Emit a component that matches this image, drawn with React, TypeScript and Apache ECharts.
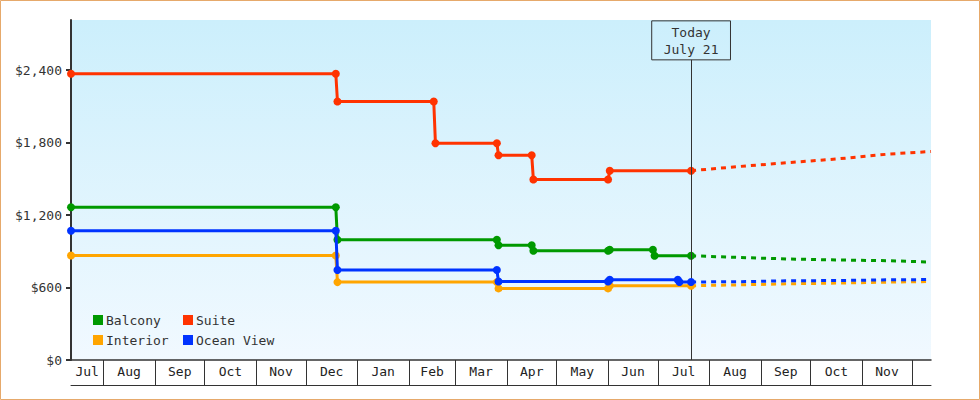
import React, { useEffect, useRef } from 'react';
import * as echarts from 'echarts';

const MONTHS = ['Jan', 'Feb', 'Mar', 'Apr', 'May', 'Jun', 'Jul', 'Aug', 'Sep', 'Oct', 'Nov', 'Dec'];

const axisStart = '2022-07-12 12:00:00';
const axisEnd = '2023-12-12 12:00:00';
const monthStarts = [
  '2022-08-01', '2022-09-01', '2022-10-01', '2022-11-01', '2022-12-01',
  '2023-01-01', '2023-02-01', '2023-03-01', '2023-04-01', '2023-05-01',
  '2023-06-01', '2023-07-01', '2023-08-01', '2023-09-01', '2023-10-01',
  '2023-11-01', '2023-12-01',
];
const yTicks = [0, 600, 1200, 1800, 2400];
const yMax = 2815;

const today = '2023-07-21';
const todayLabel = 'Today\nJuly 21';
const todayBoxBottom = 2485;

const seriesNames = ['Balcony', 'Suite', 'Interior', 'Ocean View'];
const seriesColors = ['#009900', '#FF3300', '#FFA500', '#0033FF'];

const balconyDates = ['2022-07-12 12:00:00', '2022-12-19', '2022-12-20', '2023-03-26', '2023-03-27', '2023-04-16', '2023-04-17', '2023-06-01', '2023-06-02', '2023-06-28', '2023-06-29', '2023-07-21'];
const balconyPrices = [1265, 1265, 995, 995, 950, 950, 905, 905, 913, 913, 863, 863];

const suiteDates = ['2022-07-12 12:00:00', '2022-12-19', '2022-12-20', '2023-02-16', '2023-02-17', '2023-03-26', '2023-03-27', '2023-04-16', '2023-04-17', '2023-06-01', '2023-06-02', '2023-07-21'];
const suitePrices = [2370, 2370, 2140, 2140, 1795, 1795, 1695, 1695, 1495, 1495, 1567, 1567];

const interiorDates = ['2022-07-12 12:00:00', '2022-12-19', '2022-12-20', '2023-03-26', '2023-03-27', '2023-06-01', '2023-06-02', '2023-07-21'];
const interiorPrices = [865, 865, 645, 645, 593, 593, 615, 615];

const oceanDates = ['2022-07-12 12:00:00', '2022-12-19', '2022-12-20', '2023-03-26', '2023-03-27', '2023-06-01', '2023-06-02', '2023-07-13', '2023-07-14', '2023-07-21'];
const oceanPrices = [1070, 1070, 745, 745, 650, 650, 665, 665, 646, 646];

const forecastDates = ['2023-07-21', '2023-08-19', '2023-09-18', '2023-10-18', '2023-11-17', '2023-12-12 12:00:00'];
const balconyForecast = [863, 849, 836, 828, 822, 811];
const suiteForecast = [1567, 1602, 1635, 1666, 1705, 1726];
const interiorForecast = [615, 622, 631, 637, 645, 650];
const oceanForecast = [646, 648, 656, 658, 664, 666];

const FONT = '"DejaVu Sans Mono", "Liberation Mono", monospace';

function ts(s: string): number {
  const m = s.match(/^(\d{4})-(\d{2})-(\d{2})(?:[ T](\d{2}):(\d{2})(?::(\d{2}))?)?$/);
  if (!m) return NaN;
  return Date.UTC(+m[1], +m[2] - 1, +m[3], m[4] ? +m[4] : 0, m[5] ? +m[5] : 0, m[6] ? +m[6] : 0);
}
const zip = (d: string[], v: number[]) => d.map((x, i) => [ts(x), v[i]]);

export default function App() {
  const ref = useRef<HTMLDivElement>(null);

  useEffect(() => {
    if (!ref.current) return;
    const chart = echarts.init(ref.current, undefined, { renderer: 'svg' });

    const xMin = ts(axisStart);
    const xMax = ts(axisEnd);
    const bounds = [axisStart, ...monthStarts].map(ts);
    const labelVals = bounds.slice(0, -1).map((b, i) => (b + bounds[i + 1]) / 2);
    const tickVals = monthStarts.map(ts);

    const hist = [
      zip(balconyDates, balconyPrices),
      zip(suiteDates, suitePrices),
      zip(interiorDates, interiorPrices),
      zip(oceanDates, oceanPrices),
    ];
    const fc = [
      zip(forecastDates, balconyForecast),
      zip(forecastDates, suiteForecast),
      zip(forecastDates, interiorForecast),
      zip(forecastDates, oceanForecast),
    ];

    const series: any[] = [];
    seriesNames.forEach((name, i) => {
      series.push({
        name,
        type: 'line',
        data: hist[i],
        color: seriesColors[i],
        symbol: 'circle',
        symbolSize: 8,
        showSymbol: true,
        lineStyle: { width: 3, color: seriesColors[i] },
        itemStyle: { color: seriesColors[i] },
        emphasis: { disabled: true },
        z: 3 + i,
        markLine: name === 'Suite'
          ? {
              silent: true,
              symbol: ['none', 'none'],
              lineStyle: { color: '#333', width: 1, type: 'solid' },
              emphasis: { disabled: true },
              label: {
                show: true,
                position: 'end',
                distance: 0,
                formatter: todayLabel,
                color: '#333',
                fontFamily: FONT,
                fontSize: 13,
                lineHeight: 17,
                borderColor: '#333',
                borderWidth: 1,
                padding: [3, 12, 2, 12],
              },
              data: [[{ coord: [ts(today), 0] }, { coord: [ts(today), todayBoxBottom] }]],
            }
          : undefined,
      });
    });
    seriesNames.forEach((name, i) => {
      series.push({
        name: name + ' forecast',
        type: 'line',
        data: fc[i],
        showSymbol: false,
        symbol: 'none',
        lineStyle: { width: 3, color: seriesColors[i], type: [5, 5] },
        emphasis: { disabled: true },
        z: 2,
      });
    });

    const legendCommon = {
      orient: 'vertical',
      top: 313,
      padding: 0,
      icon: 'rect',
      itemWidth: 10,
      itemHeight: 10,
      itemGap: 6,
      selectedMode: false,
      textStyle: { color: '#333', fontFamily: FONT, fontSize: 13, lineHeight: 14, padding: [0, 0, 0, -2] },
    };

    chart.setOption({
      animation: false,
      backgroundColor: '#ffffff',
      grid: {
        left: 71,
        right: 49,
        top: 20,
        bottom: 40,
        show: true,
        borderWidth: 0,
        backgroundColor: {
          type: 'linear', x: 0, y: 0, x2: 0, y2: 1,
          colorStops: [
            { offset: 0, color: '#CCEFFC' },
            { offset: 1, color: '#F1F9FF' },
          ],
        },
      },
      legend: [
        { ...legendCommon, left: 93, data: ['Balcony', 'Interior'] },
        { ...legendCommon, left: 183, data: ['Suite', 'Ocean View'] },
      ],
      xAxis: [
        {
          type: 'value',
          min: xMin,
          max: xMax,
          position: 'bottom',
          axisLine: { show: true, lineStyle: { color: '#333', width: 1.5 } },
          axisTick: { show: true, inside: false, length: 25, customValues: tickVals, lineStyle: { color: '#333', width: 1 } },
          axisLabel: {
            show: true,
            customValues: labelVals,
            hideOverlap: false,
            margin: 5,
            color: '#222',
            fontFamily: FONT,
            fontSize: 13,
            formatter: (v: number) => MONTHS[new Date(v).getUTCMonth()],
          },
          splitLine: { show: false },
        },
        {
          type: 'value',
          min: xMin,
          max: xMax,
          position: 'bottom',
          offset: 25,
          axisLine: { show: true, lineStyle: { color: '#333', width: 1 } },
          axisTick: { show: false },
          axisLabel: { show: false },
          splitLine: { show: false },
        },
      ],
      yAxis: {
        type: 'value',
        min: 0,
        max: yMax,
        axisLine: { show: true, lineStyle: { color: '#333', width: 2 } },
        axisTick: { show: true, length: 5, customValues: yTicks, lineStyle: { color: '#333', width: 2 } },
        axisLabel: {
          customValues: yTicks,
          color: '#333',
          fontFamily: FONT,
          fontSize: 13,
          margin: 9,
          formatter: (v: number) => '$' + v.toLocaleString('en-US'),
        },
        splitLine: { show: false },
      },
      graphic: [
        {
          type: 'rect',
          silent: true,
          shape: { x: 0.5, y: 0.5, width: 979, height: 399 },
          style: { fill: 'none', stroke: '#E6A96B', lineWidth: 1 },
          z: 100,
        },
      ],
      series,
    });

    return () => chart.dispose();
  }, []);

  return (
    <div
      ref={ref}
      style={{ position: 'fixed', left: 0, top: 0, width: 980, height: 400 }}
    />
  );
}
